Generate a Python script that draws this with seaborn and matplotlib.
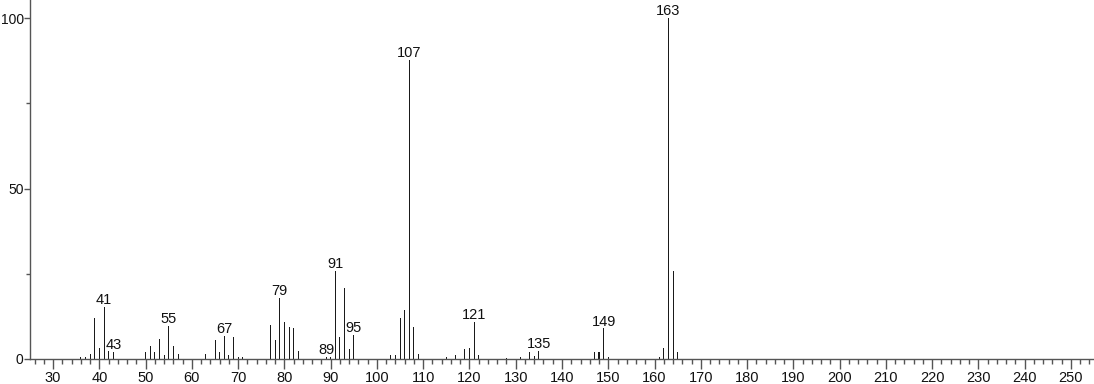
import matplotlib
matplotlib.use("Agg")
import matplotlib.pyplot as plt
from matplotlib.ticker import MultipleLocator
import seaborn as sns
import pandas as pd

# m/z values and relative intensities (%)
mz = [36, 37, 38, 39, 40, 41, 42, 43,
      50, 51, 52, 53, 54, 55, 56, 57,
      63, 65, 66, 67, 68, 69, 70, 71,
      77, 78, 79, 80, 81, 82, 83,
      89, 90, 91, 92, 93, 94, 95,
      103, 104, 105, 106, 107, 108, 109,
      115, 117, 119, 120, 121, 122,
      128, 131, 133, 134, 135,
      147, 148, 149, 150,
      161, 162, 163, 164, 165]
intensity = [0.7, 0.5, 1.5, 12.0, 3.1, 15.3, 2.2, 2.0,
             2.1, 3.9, 2.1, 5.8, 1.3, 9.8, 3.9, 1.5,
             1.5, 5.5, 2.0, 6.7, 1.1, 6.5, 0.5, 0.5,
             9.9, 5.5, 18.0, 10.8, 9.4, 9.1, 2.3,
             0.7, 0.5, 25.9, 6.5, 20.8, 2.9, 7.0,
             1.1, 1.3, 11.9, 14.5, 87.7, 9.3, 1.6,
             0.5, 1.1, 2.9, 3.1, 10.8, 1.3,
             0.4, 0.6, 2.0, 1.0, 2.3,
             2.0, 2.0, 9.0, 0.6,
             0.7, 3.2, 100.0, 25.8, 2.0]
labeled_peaks = [41, 43, 55, 67, 79, 89, 91, 95, 107, 121, 135, 149, 163]

df = pd.DataFrame({"mz": mz, "intensity": intensity})

sns.set_theme(style="ticks")
plt.rcParams["font.family"] = ["Liberation Sans", "DejaVu Sans"]

fig = plt.figure(figsize=(10.94, 3.84), dpi=100)
ax = fig.add_axes([30 / 1094, 25 / 384, 1 - 30 / 1094, 1 - 25 / 384])

sns.barplot(data=df, x="mz", y="intensity", native_scale=True, width=0.22,
            color="#1a1a1a", saturation=1, linewidth=0, errorbar=None, ax=ax)

lookup = dict(zip(mz, intensity))
for p in labeled_peaks:
    ax.text(p, lookup[p] + 0.8, str(p), ha="center", va="baseline",
            fontsize=10.5, color="#111111")

ax.set_xlim(25, 255)
ax.set_ylim(0, 105.3)
ax.xaxis.set_major_locator(MultipleLocator(10))
ax.xaxis.set_minor_locator(MultipleLocator(2))
ax.yaxis.set_major_locator(MultipleLocator(50))
ax.yaxis.set_minor_locator(MultipleLocator(25))
ax.set_xticks(range(30, 251, 10))
ax.set_xlabel("")
ax.set_ylabel("")

for s in ["top", "right"]:
    ax.spines[s].set_visible(False)
for s in ["left", "bottom"]:
    ax.spines[s].set_color("#555555")
    ax.spines[s].set_linewidth(1)

ax.tick_params(axis="both", which="major", direction="out", length=7, width=1,
               color="#555555", labelsize=10.5, labelcolor="#111111", pad=2)
ax.tick_params(axis="both", which="minor", direction="out", length=3.5, width=1,
               color="#555555")
ax.tick_params(axis="y", which="major", length=4, pad=0.5, labelsize=10)
ax.tick_params(axis="y", which="minor", length=3)

fig.savefig("out.png", dpi=100)
